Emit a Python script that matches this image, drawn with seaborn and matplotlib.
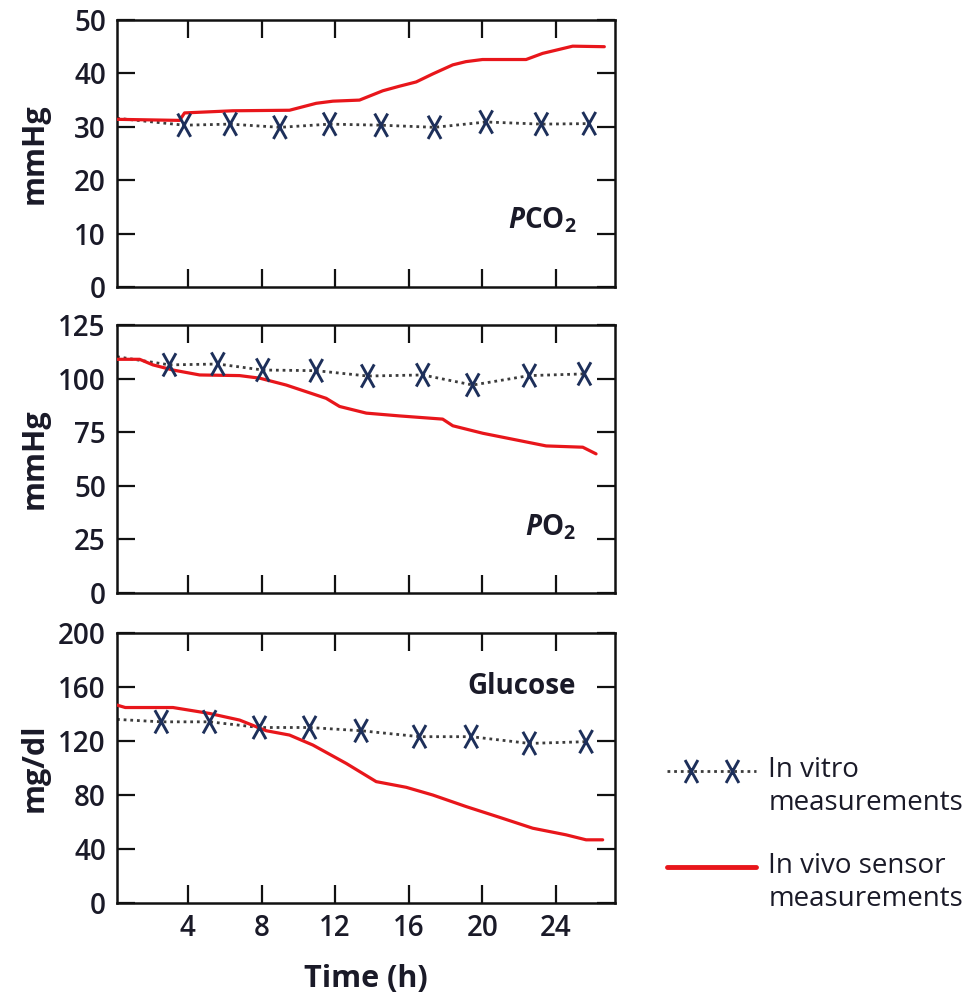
import numpy as np
import pandas as pd
import matplotlib
matplotlib.use("Agg")
import matplotlib.pyplot as plt
from matplotlib.lines import Line2D
from matplotlib.path import Path
from matplotlib.legend_handler import HandlerLine2D, HandlerTuple
import seaborn as sns

# ---------------- data ----------------
x_ticks = [4, 8, 12, 16, 20, 24]

# PCO2 (mmHg)
pco2_vitro_t = [0.15, 3.8, 6.3, 9.0, 11.7, 14.5, 17.4, 20.2, 23.2, 25.8]
pco2_vitro_v = [31.6, 30.3, 30.5, 29.9, 30.5, 30.3, 29.9, 30.9, 30.5, 30.6]
pco2_vivo_t = [0.15, 3.55, 3.82, 6.44, 9.52, 10.97, 11.88, 13.32, 14.59, 15.49,
               16.4, 17.3, 18.39, 19.1, 20.0, 22.37, 23.27, 24.18, 24.9, 26.62]
pco2_vivo_v = [31.4, 31.2, 32.6, 33.0, 33.1, 34.4, 34.8, 35.0, 36.75, 37.6,
               38.4, 39.9, 41.6, 42.2, 42.6, 42.6, 43.75, 44.5, 45.1, 45.0]
pco2_ticks = [0, 10, 20, 30, 40, 50]

# PO2 (mmHg)
po2_vitro_t = [0.15, 3.0, 5.63, 8.07, 10.97, 13.77, 16.76, 19.47, 22.55, 25.54]
po2_vitro_v = [110.2, 106.4, 106.8, 104.0, 103.7, 101.2, 101.7, 97.0, 101.4, 102.2]
po2_vivo_t = [0.15, 1.38, 2.1, 3.19, 4.64, 6.81, 7.9, 9.34, 11.51, 12.24, 13.69,
              15.49, 17.84, 18.39, 20.02, 21.83, 23.46, 25.45, 26.17]
po2_vivo_v = [109.0, 109.0, 106.4, 104.0, 101.7, 101.4, 100.2, 97.0, 90.8, 87.0,
              83.9, 82.6, 81.1, 78.0, 74.5, 71.4, 68.6, 68.0, 64.9]
po2_ticks = [0, 25, 50, 75, 100, 125]

# Glucose (mg/dl)
glu_vitro_t = [0.15, 2.56, 5.18, 7.89, 10.61, 13.41, 16.58, 19.39, 22.55, 25.63]
glu_vitro_v = [136.0, 134.2, 134.2, 130.0, 130.0, 127.6, 123.2, 123.2, 118.2, 119.5]
glu_vivo_t = [0.15, 0.6, 3.19, 5.18, 6.81, 8.26, 9.52, 10.79, 12.6, 14.23, 15.86,
              17.3, 19.12, 20.92, 22.73, 24.54, 25.63, 26.53]
glu_vivo_v = [146.6, 144.8, 144.8, 140.4, 135.5, 127.6, 124.4, 117.0, 103.4, 89.9,
              85.7, 80.0, 71.4, 63.5, 55.4, 50.5, 46.8, 46.8]
glu_ticks = [0, 40, 80, 120, 160, 200]

ylabels = ["mmHg", "mmHg", "mg/dl"]
panel_names = [r"$\mathit{P}\mathbf{CO}_{\mathbf{2}}$",
               r"$\mathit{P}\mathbf{O}_{\mathbf{2}}$",
               "Glucose"]
legend_labels = ["In vitro\nmeasurements", "In vivo sensor\nmeasurements"]
xlabel = "Time (h)"

# ---------------- style ----------------
sns.set_style("ticks")
plt.rcParams["font.family"] = ["Open Sans", "DejaVu Sans"]
plt.rcParams["mathtext.fontset"] = "custom"
plt.rcParams["mathtext.rm"] = "Open Sans"
plt.rcParams["mathtext.it"] = "Open Sans:italic:bold"
plt.rcParams["mathtext.bf"] = "Open Sans:bold"

RED = "#e8161b"
NAVY = "#1d2f5a"
DOT = "#3c3c3c"
TXT = "#1a1a28"
DOTSTYLE = (0, (1, 1.4))
# narrow letter-like "X" marker shape
XMARK = Path([(-0.28, -0.5), (0.28, 0.5), (-0.28, 0.5), (0.28, -0.5)],
             [Path.MOVETO, Path.LINETO, Path.MOVETO, Path.LINETO])

fig = plt.figure(figsize=(9.69, 9.94), dpi=100)
W, H = 969, 994
L, R = 117, 615
boxes = [(20, 287), (325, 593), (633, 903)]
axes = [fig.add_axes([L / W, 1 - b / H, (R - L) / W, (b - t) / H]) for t, b in boxes]

panels = [
    (pco2_vitro_t, pco2_vitro_v, pco2_vivo_t, pco2_vivo_v, pco2_ticks, 12.5),
    (po2_vitro_t, po2_vitro_v, po2_vivo_t, po2_vivo_v, po2_ticks, 30.8),
    (glu_vitro_t, glu_vitro_v, glu_vivo_t, glu_vivo_v, glu_ticks, 160),
]

for i, (ax, (vt, vv, rt, rv, yt, ny)) in enumerate(zip(axes, panels)):
    sns.lineplot(x=vt, y=vv, ax=ax, color=DOT, lw=2.0, linestyle=DOTSTYLE,
                 errorbar=None, sort=False, zorder=2)
    sns.lineplot(x=rt, y=rv, ax=ax, color=RED, lw=2.3, errorbar=None,
                 sort=False, zorder=3)
    sns.scatterplot(x=vt[1:], y=vv[1:], ax=ax, marker=XMARK, s=280,
                    facecolor="none", edgecolor=NAVY, linewidth=2.1, zorder=5)
    ax.set_xlim(0.15, 27.2)
    ax.set_ylim(yt[0], yt[-1])
    ax.set_yticks(yt)
    ax.set_xticks(x_ticks)
    ax.tick_params(direction="in", length=13, width=1.6, top=True, right=True,
                   labelsize=20, pad=8, color="#111111", labelcolor=TXT)
    for sp in ax.spines.values():
        sp.set_linewidth(1.8)
        sp.set_color("#111111")
    for lbl in ax.get_yticklabels() + ax.get_xticklabels():
        lbl.set_fontweight("semibold")
    if i < 2:
        ax.set_xticklabels([])
    ax.set_ylabel(ylabels[i], fontsize=22, fontweight="bold", color=TXT)
    ax.yaxis.set_label_coords(-0.135, 0.5)
    ax.text(25.1, ny, panel_names[i], ha="right", va="center", fontsize=20,
            fontweight="bold", color=TXT)

axes[2].set_xlabel(xlabel, fontsize=22, fontweight="bold", color=TXT)
axes[2].xaxis.set_label_coords(0.5, -0.225)


class FirstLineHandler(HandlerLine2D):
    """Line handler raised so that it sits beside the first text line."""

    def __init__(self, shift, **kw):
        super().__init__(**kw)
        self.shift = shift

    def create_artists(self, legend, orig_handle, xdescent, ydescent, width,
                       height, fontsize, trans):
        return super().create_artists(legend, orig_handle, xdescent,
                                      ydescent - 2 * self.shift, width, height,
                                      fontsize, trans)


SHIFT = 12
vitro_line = Line2D([], [], color=DOT, lw=2.0, linestyle=DOTSTYLE)
vitro_marks = Line2D([], [], linestyle="none", marker=XMARK, markersize=16.5,
                     markerfacecolor="none", markeredgecolor=NAVY,
                     markeredgewidth=2.1)
vivo_line = Line2D([], [], color=RED, lw=3.5)
vitro_handle = (vitro_line, vitro_marks)

leg = fig.legend([vitro_handle, vivo_line], legend_labels, loc="upper left",
                 bbox_to_anchor=(667 / W, 1 - 756 / H), frameon=False,
                 fontsize=20, numpoints=2, handlelength=3.2, handletextpad=0.45,
                 borderpad=0, borderaxespad=0, labelspacing=1.25,
                 handler_map={
                     vitro_handle: HandlerTuple(ndivide=1, pad=0),
                     vitro_marks: FirstLineHandler(SHIFT, marker_pad=0.85),
                     Line2D: FirstLineHandler(SHIFT, marker_pad=0),
                 })
for t in leg.get_texts():
    t.set_color(TXT)
    t.set_linespacing(1.25)

fig.savefig("out.png", dpi=100)
